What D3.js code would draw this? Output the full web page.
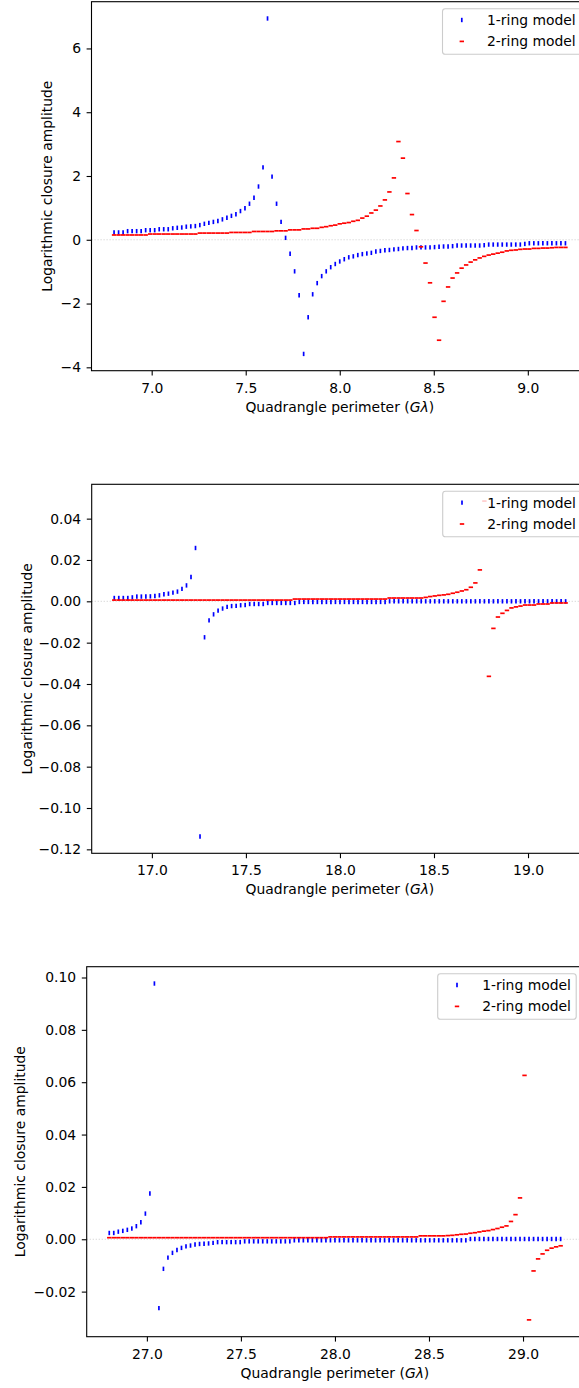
<!DOCTYPE html>
<html><head><meta charset="utf-8">
<script src="https://cdn.jsdelivr.net/npm/d3@7"></script>
<style>html,body{margin:0;padding:0;background:#fff;} svg{display:block;} text{font-family:"DejaVu Sans",sans-serif;}</style>
</head><body><svg id="c" width="579" height="1388"></svg>
<script>
// ---------- data ----------
const perimeter1 = [6.8,6.824,6.848,6.872,6.896,6.92,6.944,6.968,6.992,7.016,
7.04,7.064,7.088,7.112,7.136,7.16,7.184,7.208,7.232,7.256,
7.28,7.304,7.328,7.352,7.376,7.4,7.424,7.448,7.472,7.496,
7.52,7.544,7.568,7.592,7.616,7.64,7.664,7.688,7.712,7.736,
7.76,7.784,7.808,7.832,7.856,7.88,7.904,7.928,7.952,7.976,
8.0,8.024,8.048,8.072,8.096,8.12,8.144,8.168,8.192,8.216,
8.24,8.264,8.288,8.312,8.336,8.36,8.384,8.408,8.432,8.456,
8.48,8.504,8.528,8.552,8.576,8.6,8.624,8.648,8.672,8.696,
8.72,8.744,8.768,8.792,8.816,8.84,8.864,8.888,8.912,8.936,
8.96,8.984,9.008,9.032,9.056,9.08,9.104,9.128,9.152,9.176,
9.2];
const oneRing1 = [0.23,0.23,0.23,0.27,0.27,0.27,0.27,0.30,0.30,0.30,
0.33,0.33,0.33,0.36,0.375,0.385,0.41,0.42,0.43,0.46,
0.50,0.53,0.56,0.59,0.64,0.69,0.75,0.80,0.90,0.99,
1.13,1.32,1.67,2.27,6.94,1.98,1.13,0.56,0.06,-0.44,
-0.99,-1.74,-3.58,-2.43,-1.71,-1.36,-1.14,-0.99,-0.86,-0.76,
-0.68,-0.61,-0.55,-0.52,-0.48,-0.45,-0.43,-0.41,-0.37,-0.35,
-0.33,-0.32,-0.30,-0.29,-0.27,-0.26,-0.26,-0.24,-0.24,-0.24,
-0.24,-0.23,-0.22,-0.21,-0.21,-0.20,-0.18,-0.18,-0.18,-0.18,
-0.18,-0.18,-0.17,-0.15,-0.15,-0.15,-0.15,-0.15,-0.15,-0.15,
-0.15,-0.13,-0.11,-0.11,-0.11,-0.11,-0.11,-0.11,-0.11,-0.11,
-0.11];
const twoRing1 = [0.15,0.15,0.15,0.15,0.15,0.15,0.15,0.15,0.18,0.18,
0.18,0.18,0.18,0.18,0.18,0.18,0.18,0.18,0.18,0.21,
0.21,0.21,0.21,0.21,0.21,0.21,0.23,0.23,0.23,0.23,
0.23,0.26,0.26,0.26,0.26,0.26,0.28,0.28,0.28,0.31,
0.31,0.31,0.34,0.34,0.36,0.36,0.39,0.41,0.44,0.46,
0.50,0.52,0.54,0.58,0.61,0.68,0.74,0.84,0.93,1.06,
1.25,1.50,1.94,3.08,2.56,1.45,0.79,0.29,-0.22,-0.73,
-1.35,-2.43,-3.15,-1.93,-1.48,-1.20,-1.04,-0.89,-0.79,-0.70,
-0.63,-0.57,-0.52,-0.48,-0.45,-0.42,-0.39,-0.35,-0.33,-0.32,
-0.30,-0.29,-0.29,-0.27,-0.27,-0.26,-0.26,-0.25,-0.24,-0.24,
-0.24];

const perimeter2 = [16.8,16.824,16.848,16.872,16.896,16.92,16.944,16.968,16.992,17.016,
17.04,17.064,17.088,17.112,17.136,17.16,17.184,17.208,17.232,17.256,
17.28,17.304,17.328,17.352,17.376,17.4,17.424,17.448,17.472,17.496,
17.52,17.544,17.568,17.592,17.616,17.64,17.664,17.688,17.712,17.736,
17.76,17.784,17.808,17.832,17.856,17.88,17.904,17.928,17.952,17.976,
18.0,18.024,18.048,18.072,18.096,18.12,18.144,18.168,18.192,18.216,
18.24,18.264,18.288,18.312,18.336,18.36,18.384,18.408,18.432,18.456,
18.48,18.504,18.528,18.552,18.576,18.6,18.624,18.648,18.672,18.696,
18.72,18.744,18.768,18.792,18.816,18.84,18.864,18.888,18.912,18.936,
18.96,18.984,19.008,19.032,19.056,19.08,19.104,19.128,19.152,19.176,
19.2];
const oneRing2 = [0.0016,0.0016,0.0016,0.0016,0.0019,0.0023,0.0023,0.0023,0.0024,0.0026,
0.0029,0.0034,0.0037,0.0042,0.0047,0.0060,0.0077,0.0118,0.0258,-0.1138,
-0.0174,-0.0092,-0.0063,-0.0045,-0.0035,-0.0027,-0.0023,-0.0022,-0.0019,-0.0018,
-0.0013,-0.0013,-0.0013,-0.0013,-0.0008,-0.0008,-0.0008,-0.0008,-0.0008,-0.0008,
-0.0008,-0.0003,-0.0003,-0.0003,-0.0003,-0.0003,-0.0003,-0.0003,-0.0003,-0.0003,
-0.0003,-0.0003,-0.0003,-0.0003,-0.0003,-0.0003,-0.0003,-0.0003,-0.0003,-0.0003,
-0.0003,0,0,0,0,0,0,0,0,0,
0,0,0,0,0,0,0,0,0,0,
0,0,0,0,0,0,0,0,0,0,
0,0,0,0,0,0,0,0,0,0,
0];
const twoRing2 = [0.0006,0.0006,0.0006,0.0006,0.0006,0.0006,0.0006,0.0006,0.0006,0.0006,
0.0006,0.0006,0.0006,0.0006,0.0006,0.0006,0.0006,0.0006,0.0006,0.0006,
0.0006,0.0006,0.0006,0.0006,0.0006,0.0006,0.0006,0.0006,0.0006,0.0006,
0.0006,0.0006,0.0006,0.0006,0.0006,0.0006,0.0006,0.0006,0.0006,0.0006,
0.0011,0.0011,0.0011,0.0011,0.0011,0.0011,0.0011,0.0011,0.0011,0.0011,
0.0011,0.0011,0.0011,0.0011,0.0011,0.0011,0.0011,0.0011,0.0011,0.0011,
0.0011,0.0016,0.0016,0.0016,0.0016,0.0016,0.0016,0.0016,0.0016,0.0019,
0.0023,0.0026,0.0029,0.0031,0.0034,0.0039,0.0044,0.0050,0.0056,0.0068,
0.0089,0.0152,0.0485,-0.0363,-0.0131,-0.0076,-0.0058,-0.0044,-0.0032,-0.0027,
-0.0023,-0.0018,-0.0018,-0.0018,-0.0013,-0.0013,-0.0013,-0.0008,-0.0008,-0.0008,
-0.0008];

const perimeter3 = [26.8,26.824,26.848,26.872,26.896,26.92,26.944,26.968,26.992,27.016,
27.04,27.064,27.088,27.112,27.136,27.16,27.184,27.208,27.232,27.256,
27.28,27.304,27.328,27.352,27.376,27.4,27.424,27.448,27.472,27.496,
27.52,27.544,27.568,27.592,27.616,27.64,27.664,27.688,27.712,27.736,
27.76,27.784,27.808,27.832,27.856,27.88,27.904,27.928,27.952,27.976,
28.0,28.024,28.048,28.072,28.096,28.12,28.144,28.168,28.192,28.216,
28.24,28.264,28.288,28.312,28.336,28.36,28.384,28.408,28.432,28.456,
28.48,28.504,28.528,28.552,28.576,28.6,28.624,28.648,28.672,28.696,
28.72,28.744,28.768,28.792,28.816,28.84,28.864,28.888,28.912,28.936,
28.96,28.984,29.008,29.032,29.056,29.08,29.104,29.128,29.152,29.176,
29.2];
const oneRing3 = [0.0024,0.0024,0.0029,0.0032,0.0036,0.0041,0.0050,0.0065,0.0098,0.0175,
0.0977,-0.0263,-0.0113,-0.0070,-0.0052,-0.0041,-0.0033,-0.0027,-0.0024,-0.0020,
-0.0018,-0.0017,-0.0016,-0.0014,-0.0011,-0.0011,-0.0011,-0.0011,-0.0011,-0.0011,
-0.0008,-0.0008,-0.0008,-0.0008,-0.0008,-0.0008,-0.0008,-0.0008,-0.0008,-0.0008,
-0.0008,-0.0004,-0.0004,-0.0004,-0.0004,-0.0004,-0.0004,-0.0004,-0.0004,-0.0004,
-0.0004,-0.0004,-0.0004,-0.0004,-0.0004,-0.0004,-0.0004,-0.0004,-0.0004,-0.0004,
-0.0004,-0.0004,-0.0004,-0.0004,-0.0004,-0.0004,-0.0004,-0.0004,-0.0004,-0.0004,
-0.0004,-0.0004,-0.0004,-0.0004,-0.0004,-0.0004,-0.0004,-0.0004,-0.0004,-0.0004,
0.0001,0.0001,0.0001,0.0001,0.0001,0.0001,0.0001,0.0001,0.0001,0.0001,
0.0001,0.0001,0.0001,0.0001,0.0001,0.0001,0.0001,0.0001,0.0001,0.0001,
0.0001];
const twoRing3 = [0.0006,0.0006,0.0006,0.0006,0.0006,0.0006,0.0006,0.0006,0.0006,0.0006,
0.0006,0.0006,0.0006,0.0006,0.0006,0.0006,0.0006,0.0006,0.0006,0.0006,
0.0006,0.0006,0.0006,0.0006,0.0006,0.0006,0.0006,0.0006,0.0006,0.0006,
0.0006,0.0006,0.0006,0.0006,0.0006,0.0006,0.0006,0.0006,0.0006,0.0006,
0.0006,0.0006,0.0006,0.0006,0.0006,0.0006,0.0006,0.0006,0.0006,0.0009,
0.0009,0.0009,0.0009,0.0009,0.0009,0.0009,0.0009,0.0009,0.0009,0.0009,
0.0009,0.0009,0.0009,0.0009,0.0009,0.0009,0.0009,0.0009,0.0009,0.0013,
0.0013,0.0013,0.0013,0.0013,0.0013,0.0014,0.0015,0.0017,0.0019,0.0020,
0.0023,0.0025,0.0028,0.0031,0.0033,0.0037,0.0041,0.0046,0.0051,0.0068,
0.0094,0.0158,0.0626,-0.0308,-0.0121,-0.0075,-0.0056,-0.0042,-0.0034,-0.0029,
-0.0025];

const xTicks1 = [7.0,7.5,8.0,8.5,9.0];
const xTicks2 = [17.0,17.5,18.0,18.5,19.0];
const xTicks3 = [27.0,27.5,28.0,28.5,29.0];
const yTicks1 = [-4,-2,0,2,4,6];
const yTicks2 = [-0.12,-0.10,-0.08,-0.06,-0.04,-0.02,0.00,0.02,0.04];
const yTicks3 = [-0.02,0.00,0.02,0.04,0.06,0.08,0.10];
const seriesNames = ["1-ring model","2-ring model"];
const seriesColors = ["#0000ff","#ff0000"];
const yLabel = "Logarithmic closure amplitude";

// ---------- layout ----------
const FS = 13.9;
const AXW = 496.5;
const MK = 2.2, MW = 1.7;
const layout = [
  {left:91.5, top:1.7,   bottom:370.7,  ylabX:47},
  {left:91.7, top:484.3, bottom:853.3,  ylabX:26.7},
  {left:86.7, top:966.7, bottom:1336.7, ylabX:20}
];
const panels = [
  {x:perimeter1, s:[oneRing1,twoRing1], xt:xTicks1, yt:yTicks1, yf:d3.format("d")},
  {x:perimeter2, s:[oneRing2,twoRing2], xt:xTicks2, yt:yTicks2, yf:d3.format(".2f")},
  {x:perimeter3, s:[oneRing3,twoRing3], xt:xTicks3, yt:yTicks3, yf:d3.format(".2f")}
];

const svg = d3.select("#c");

panels.forEach((p, k) => {
  const L = layout[k];
  const xe = d3.extent(p.x), xp = (xe[1]-xe[0])*0.05;
  const x = d3.scaleLinear().domain([xe[0]-xp, xe[1]+xp]).range([L.left, L.left+AXW]);
  const ye = d3.extent(p.s[0].concat(p.s[1])), yp = (ye[1]-ye[0])*0.05;
  const y = d3.scaleLinear().domain([ye[0]-yp, ye[1]+yp]).range([L.bottom, L.top]);
  const g = svg.append("g");

  // zero reference line
  g.append("line").attr("x1", L.left).attr("x2", L.left+AXW)
    .attr("y1", y(0)).attr("y2", y(0))
    .attr("stroke", "#cfcfcf").attr("stroke-width", 0.9).attr("stroke-dasharray", "1.2,1.8");

  // 1-ring: vertical tick markers
  g.append("g").selectAll("line").data(p.s[0]).join("line")
    .attr("x1", (d,i)=>x(p.x[i])).attr("x2", (d,i)=>x(p.x[i]))
    .attr("y1", d=>y(d)-MK).attr("y2", d=>y(d)+MK)
    .attr("stroke", seriesColors[0]).attr("stroke-width", MW);
  // 2-ring: horizontal tick markers
  g.append("g").selectAll("line").data(p.s[1]).join("line")
    .attr("x1", (d,i)=>x(p.x[i])-MK).attr("x2", (d,i)=>x(p.x[i])+MK)
    .attr("y1", d=>y(d)).attr("y2", d=>y(d))
    .attr("stroke", seriesColors[1]).attr("stroke-width", MW);

  // axes
  const xa = g.append("g").attr("transform", `translate(0,${L.bottom})`)
    .call(d3.axisBottom(x).tickValues(p.xt).tickFormat(d3.format(".1f")).tickSize(4.9).tickSizeOuter(0).tickPadding(7.2));
  const ya = g.append("g").attr("transform", `translate(${L.left},0)`)
    .call(d3.axisLeft(y).tickValues(p.yt).tickFormat(p.yf).tickSize(4.9).tickSizeOuter(0).tickPadding(5.6));
  [xa, ya].forEach(a => {
    a.select(".domain").remove();
    a.attr("font-size", FS).attr("font-family", "DejaVu Sans");
    a.selectAll("line").attr("stroke", "#000").attr("stroke-width", 1.1);
    a.selectAll("text").attr("fill", "#000");
  });

  // frame
  g.append("rect").attr("x", L.left).attr("y", L.top).attr("width", AXW).attr("height", L.bottom-L.top)
    .attr("fill", "none").attr("stroke", "#000").attr("stroke-width", 1.1);

  // x label
  const xl = g.append("text").attr("x", L.left+AXW/2).attr("y", L.bottom+41)
    .attr("text-anchor", "middle").attr("font-size", FS).attr("fill", "#000");
  xl.append("tspan").text("Quadrangle perimeter (");
  xl.append("tspan").attr("font-style", "italic").text("Gλ");
  xl.append("tspan").text(")");

  // y label
  g.append("text").attr("transform", `translate(${L.ylabX},${(L.top+L.bottom)/2}) rotate(-90)`)
    .attr("text-anchor", "middle").attr("dominant-baseline", "central")
    .attr("font-size", FS).attr("fill", "#000").text(yLabel);

  // legend
  const lw = 138.5, lh = 45.5;
  const lx = L.left + AXW - 7 - lw, ly = L.top + 7;
  const lg = g.append("g");
  lg.append("rect").attr("x", lx).attr("y", ly).attr("width", lw).attr("height", lh).attr("rx", 2.8)
    .attr("fill", "#fff").attr("fill-opacity", 0.8).attr("stroke", "#cccccc").attr("stroke-width", 1.1);
  seriesNames.forEach((name, j) => {
    const cy = ly + 11.3 + j*21.4, mx = lx + 19.3;
    if (j === 0) {
      lg.append("line").attr("x1", mx).attr("x2", mx).attr("y1", cy-MK).attr("y2", cy+MK)
        .attr("stroke", seriesColors[0]).attr("stroke-width", MW);
    } else {
      lg.append("line").attr("x1", mx-MK).attr("x2", mx+MK).attr("y1", cy).attr("y2", cy)
        .attr("stroke", seriesColors[1]).attr("stroke-width", MW);
    }
    lg.append("text").attr("x", lx + 44.5).attr("y", cy + 5).attr("font-size", FS).attr("fill", "#000").text(name);
  });
});
</script>
</body></html>
